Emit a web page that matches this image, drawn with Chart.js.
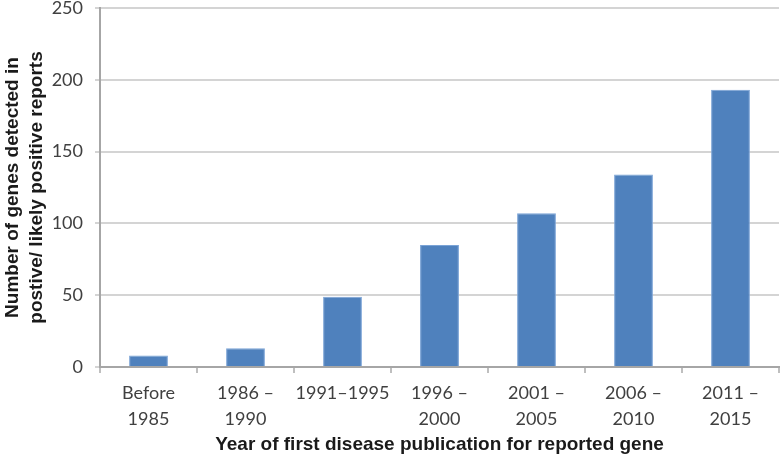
<!DOCTYPE html>
<html><head><meta charset="utf-8">
<script src="https://cdn.jsdelivr.net/npm/chart.js@4/dist/chart.umd.min.js"></script>
<style>html,body{margin:0;padding:0;background:#fff}#wrap{width:780px;height:460px}</style>
</head><body><div id="wrap"><canvas id="c" width="780" height="460"></canvas></div>
<script>
const categories = [["Before","1985"],["1986 \u2013","1990"],"1991\u20131995",["1996 \u2013","2000"],["2001 \u2013","2005"],["2006 \u2013","2010"],["2011 \u2013","2015"]];
const geneCounts = [8, 13, 49, 85, 107, 134, 193];
const yTitle = ["Number of genes detected in","postive/ likely positive reports"];
const xTitle = "Year of first disease publication for reported gene";

new Chart(document.getElementById('c'), {
  type: 'bar',
  data: { labels: categories, datasets: [{ data: geneCounts, backgroundColor: '#4f81bd', borderColor: '#7aa3d6', borderWidth: 1, categoryPercentage: 1, barPercentage: 0.4 }] },
  options: {
    responsive: false, animation: false,
    layout: { padding: { top: 0, right: 1, left: 0, bottom: 0 } },
    plugins: { legend: { display: false }, tooltip: { enabled: false } },
    scales: {
      x: {
        grid: { drawOnChartArea: false, drawTicks: true, tickLength: 6, color: '#bfbfbf', lineWidth: 2 },
        border: { color: '#a6a6a6', width: 2 },
        ticks: { color: '#404040', font: { family: 'Lato', size: 18, lineHeight: 1.4 }, maxRotation: 0, autoSkip: false, padding: 8 },
        title: { display: true, text: xTitle, color: '#1a1a1a', font: { family: 'Liberation Sans', size: 19, weight: 'bold' }, padding: { top: 2, bottom: 4 } },
        afterFit: s => { s.height = 93; s.paddingLeft = 0; s.paddingRight = 0; }
      },
      y: {
        min: 0, max: 250,
        grid: { color: '#d4d4d4', lineWidth: 2, drawTicks: true, tickLength: 5 },
        border: { color: '#a6a6a6', width: 2 },
        ticks: { stepSize: 50, color: '#404040', font: { family: 'Lato', size: 18 }, padding: 12 },
        title: { display: true, text: yTitle, color: '#1a1a1a', font: { family: 'Liberation Sans', size: 19, weight: 'bold', lineHeight: 1.26 }, padding: { top: 1, bottom: 4 } },
        afterFit: s => { s.width = 100; s.paddingTop = 8; s.paddingBottom = 0; }
      }
    }
  }
});
</script></body></html>
